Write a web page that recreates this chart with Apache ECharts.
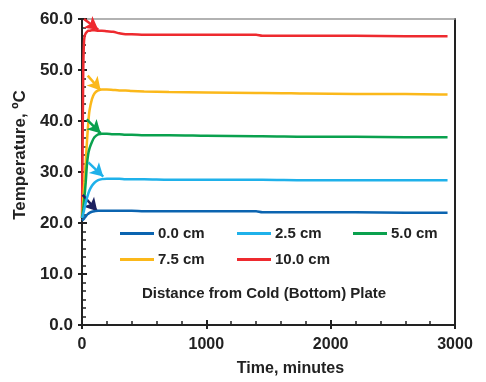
<!DOCTYPE html>
<html>
<head>
<meta charset="utf-8">
<script src="https://cdn.jsdelivr.net/npm/echarts@6/dist/echarts.min.js"></script>
<style>
  html, body { margin: 0; padding: 0; background: #fff; }
  #chart { width: 486px; height: 382px; }
</style>
</head>
<body>
<div id="chart"></div>
<script>
// Elapsed time (minutes) shared by every temperature record
const times = [0, 5, 10, 15, 20, 30, 40, 50, 60, 80, 100, 130, 160, 200, 250, 300, 350, 400, 500, 700, 1000, 1400, 1450, 1800, 2200, 2600, 2940];

// Temperatures (°C) at each distance from the cold plate
const temp00 = [20.5, 20.6, 20.7, 20.8, 21.0, 21.3, 21.6, 21.8, 22.0, 22.2, 22.3, 22.4, 22.4, 22.4, 22.4, 22.4, 22.4, 22.4, 22.3, 22.3, 22.3, 22.3, 22.1, 22.1, 22.1, 22.0, 22.0];
const temp25 = [21.0, 21.3, 21.8, 22.3, 22.9, 24.0, 24.9, 25.7, 26.4, 27.3, 27.9, 28.4, 28.6, 28.7, 28.7, 28.7, 28.6, 28.6, 28.6, 28.5, 28.5, 28.5, 28.5, 28.4, 28.4, 28.4, 28.4];
const temp50 = [21.0, 21.8, 22.8, 24.0, 25.2, 28.0, 31.5, 33.5, 34.6, 35.9, 36.8, 37.4, 37.5, 37.5, 37.4, 37.4, 37.3, 37.3, 37.2, 37.2, 37.1, 37.0, 37.0, 36.9, 36.9, 36.8, 36.8];
const temp75 = [21.0, 22.5, 24.5, 26.5, 28.5, 32.0, 36.0, 39.5, 42.0, 44.3, 45.4, 46.0, 46.2, 46.2, 46.1, 46.0, 46.0, 45.9, 45.8, 45.7, 45.6, 45.5, 45.5, 45.4, 45.3, 45.3, 45.2];
const temp100 = [21.0, 35.0, 50.0, 55.0, 56.5, 57.2, 57.5, 57.7, 57.7, 57.8, 57.8, 57.7, 57.7, 57.6, 57.5, 57.2, 57.0, 57.0, 56.9, 56.9, 56.9, 56.9, 56.7, 56.7, 56.7, 56.6, 56.6];

// Initial-temperature arrows: [startTime, startTemp, endTime, endTemp]
const arrow00 = [5, 25.5, 123, 22.3];
const arrow25 = [51, 31.9, 171, 29.1];
const arrow50 = [38, 40.3, 150, 37.6];
const arrow75 = [46, 48.9, 150, 46.0];
const arrow100 = [16, 60.0, 131, 57.9];

const seriesNames = ['0.0 cm', '2.5 cm', '5.0 cm', '7.5 cm', '10.0 cm'];
const xTicks = [0, 1000, 2000, 3000];
const yTicks = [0, 10, 20, 30, 40, 50, 60];

const colors = ['#0b64b0', '#1fb1ea', '#0aa14e', '#fbb81a', '#ee2a2f'];
const arrowColors = ['#1c2160', '#1fb1ea', '#0aa14e', '#fbb81a', '#ee2a2f'];

const FONT = '"Liberation Sans", Arial, sans-serif';
const INK = '#222';
const temps = [temp00, temp25, temp50, temp75, temp100];
const arrows = [arrow00, arrow25, arrow50, arrow75, arrow100];

const series = seriesNames.map((name, i) => ({
  name: name,
  type: 'line',
  data: times.map((t, k) => [t, temps[i][k]]),
  showSymbol: false,
  smooth: 0.3,
  clip: false,
  z: 2 + (4 - i),
  lineStyle: { color: colors[i], width: 2.5 },
  itemStyle: { color: colors[i] },
  markLine: {
    silent: true,
    symbol: ['none', 'arrow'],
    symbolSize: [11, 13],
    label: { show: false },
    lineStyle: { color: arrowColors[i], width: 2.5, type: 'solid' },
    data: [[
      { coord: [arrows[i][0], arrows[i][1]] },
      { coord: [arrows[i][2], arrows[i][3]] }
    ]]
  }
}));

// one legend block per entry, laid out in a 3-column grid
const legendPos = [[115, 221], [232, 221], [348, 221], [115, 247], [232, 247]];
const legends = seriesNames.map((name, i) => ({
  data: [name],
  left: legendPos[i][0],
  top: legendPos[i][1],
  itemWidth: 34,
  itemHeight: 3,
  icon: 'rect',
  itemGap: 0,
  textStyle: { fontFamily: FONT, fontWeight: 'bold', fontSize: 15, color: INK, padding: [0, 0, 0, -1] },
  selectedMode: false
}));

// outward halves of the major ticks (the main axes carry the inward ticks)
const outerTicks = {
  axisLine: { show: false },
  axisTick: { show: true, inside: false, length: 4, lineStyle: { color: INK, width: 2 } },
  axisLabel: { show: false },
  splitLine: { show: false }
};

const chart = echarts.init(document.getElementById('chart'), null, { renderer: 'canvas' });
chart.setOption({
  animation: false,
  backgroundColor: '#fff',
  grid: { left: 82, right: 31, top: 19, bottom: 54, containLabel: false },
  legend: legends,
  graphic: [{
    type: 'text',
    left: 142,
    top: 286,
    style: { text: 'Distance from Cold (Bottom) Plate', font: 'bold 15px ' + FONT, fill: INK }
  }],
  xAxis: [{
    type: 'value',
    min: xTicks[0],
    max: xTicks[xTicks.length - 1],
    interval: 1000,
    name: 'Time, minutes',
    nameLocation: 'middle',
    nameGap: 36,
    nameTextStyle: { fontFamily: FONT, fontWeight: 'bold', fontSize: 16, color: INK, padding: [0, 0, 0, 44] },
    axisLine: { lineStyle: { color: INK, width: 2 } },
    axisTick: { show: true, inside: true, length: 5, lineStyle: { color: INK, width: 2 } },
    minorTick: { show: true, splitNumber: 5, length: 4, lineStyle: { color: INK, width: 1.5 } },
    splitLine: { show: false },
    axisLabel: { fontFamily: FONT, fontWeight: 'bold', fontSize: 16, color: INK, margin: 12, formatter: v => String(v) }
  }, Object.assign({
    type: 'value', position: 'bottom', min: 0, max: 3000, interval: 1000
  }, outerTicks), {
    type: 'value', position: 'top', min: 0, max: 3000,
    axisLine: { show: true, onZero: false, lineStyle: { color: '#999', width: 1.5 } },
    axisTick: { show: false }, axisLabel: { show: false }, splitLine: { show: false }
  }],
  yAxis: [{
    type: 'value',
    min: yTicks[0],
    max: yTicks[yTicks.length - 1],
    interval: 10,
    name: 'Temperature, ºC',
    nameLocation: 'middle',
    nameGap: 51,
    nameTextStyle: { fontFamily: FONT, fontWeight: 'bold', fontSize: 17, color: INK, padding: [0, 0, 0, 34] },
    axisLine: { show: true, lineStyle: { color: INK, width: 2 } },
    axisTick: { show: true, inside: true, length: 5, lineStyle: { color: INK, width: 2 } },
    minorTick: { show: true, splitNumber: 6, length: 4, lineStyle: { color: INK, width: 1.5 } },
    splitLine: { show: false },
    axisLabel: { fontFamily: FONT, fontWeight: 'bold', fontSize: 17, color: INK, margin: 9, formatter: v => v.toFixed(1) }
  }, Object.assign({
    type: 'value', position: 'left', min: 0, max: 60, interval: 10
  }, outerTicks), {
    type: 'value', position: 'right', min: 0, max: 60,
    axisLine: { show: true, onZero: false, lineStyle: { color: INK, width: 2 } },
    axisTick: { show: false }, axisLabel: { show: false }, splitLine: { show: false }
  }],
  series: series
});
</script>
</body>
</html>
